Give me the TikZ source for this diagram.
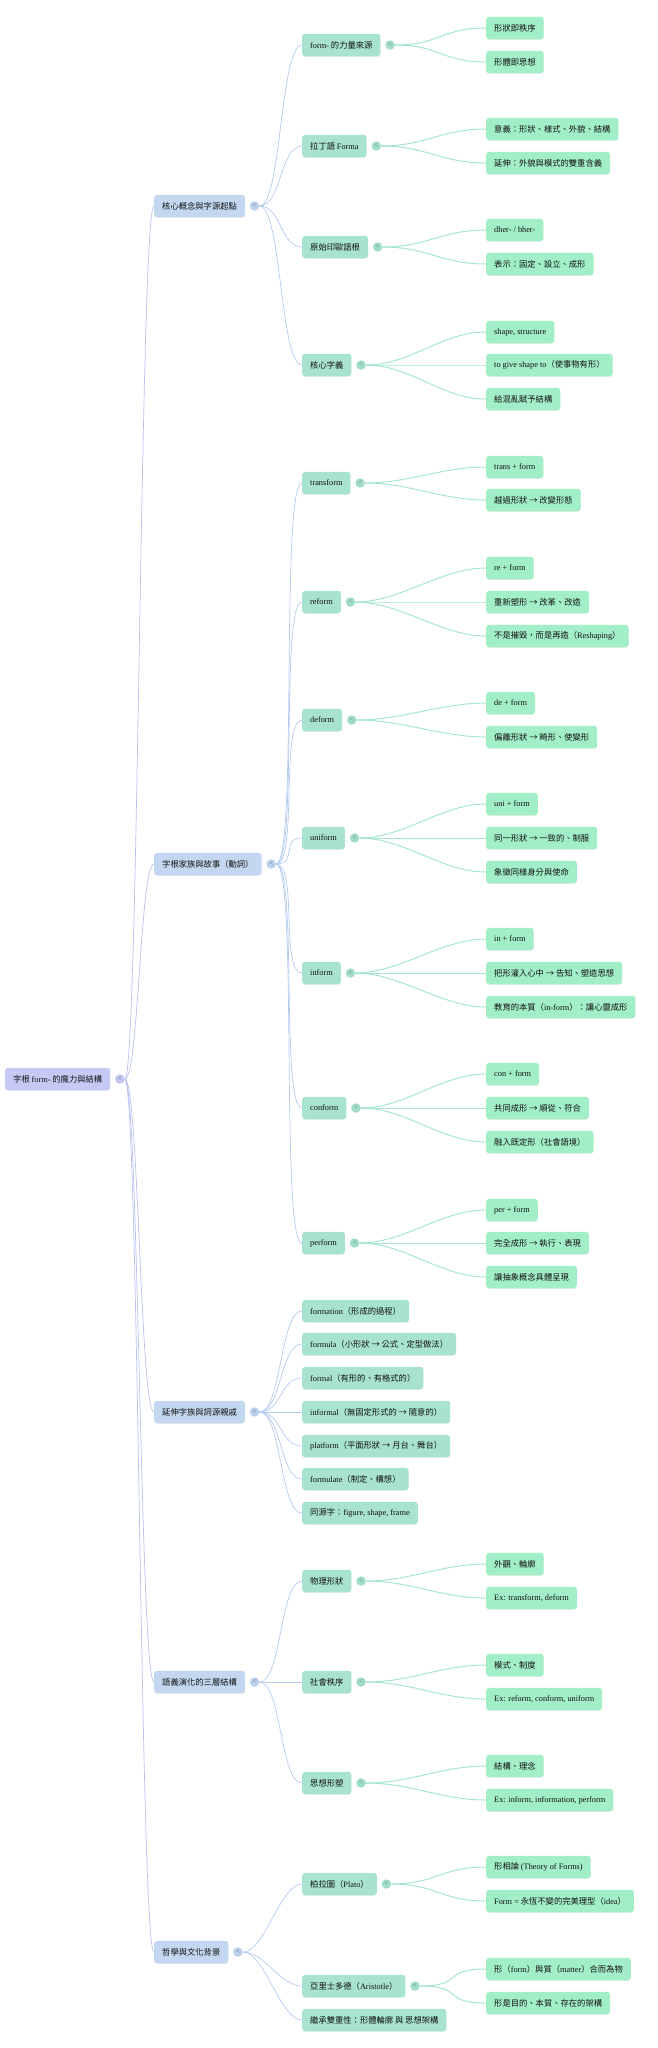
\documentclass[tikz,border=0pt]{standalone}
\usepackage{fontspec}
\setmainfont{Noto Sans CJK TC}
\newfontfamily\latf{Liberation Serif}
\newcommand\lat[1]{{\latf #1}}
\usepackage{tikz}
\usetikzlibrary{positioning,shadows}

\definecolor{rootc}{HTML}{C5CAF5}
\definecolor{topc}{HTML}{C3D8F0}
\definecolor{subc}{HTML}{A8E2D1}
\definecolor{leafc}{HTML}{A2EEC6}
\definecolor{rootk}{HTML}{C1C6F2}
\definecolor{topk}{HTML}{BACFEC}
\definecolor{subk}{HTML}{9FDDC8}
\definecolor{linea}{HTML}{B9C1F1}
\definecolor{lineb}{HTML}{B3CBEE}
\definecolor{linec}{HTML}{A6E6CF}
\definecolor{ink}{HTML}{111111}

\begin{document}
\begin{tikzpicture}[x=1pt,y=-1pt,
  box/.style={anchor=west,rounded corners=3pt,inner xsep=8pt,minimum height=22.5pt,
    text=ink,font=\fontsize{8.3}{10}\selectfont,
    drop shadow={shadow xshift=0pt,shadow yshift=-0.7pt,opacity=0.12}},
  rootbox/.style={box,fill=rootc},
  topic/.style={box,fill=topc},
  sub/.style={box,fill=subc},
  leaf/.style={box,fill=leafc},
  knob/.style={circle,inner sep=0pt,minimum size=9.5pt,text=black!60,
    font=\latf\fontsize{6.5}{6.5}\selectfont},
  ea/.style={draw=linea,line width=0.7pt,out=0,in=180,distance=14pt},
  eb/.style={draw=lineb,line width=0.7pt,out=0,in=180,distance=22pt},
  ec/.style={draw=linec,line width=1pt,out=0,in=180,distance=45pt}]
  \useasboundingbox (0,0) rectangle (658,2048);

  \node[rootbox] (r) at (5,1079) {字根 \lat{form-} 的魔力與結構};

  % main branches
  \node[topic] (a) at (154,206) {核心概念與字源起點};
  \node[topic] (b) at (154,864) {字根家族與故事（動詞）};
  \node[topic] (c) at (154,1412) {延伸字族與詞源親戚};
  \node[topic] (d) at (154,1682) {語義演化的三層結構};
  \node[topic] (e) at (154,1952) {哲學與文化背景};

  % core concepts
  \node[sub] (a1) at (302,45) {\lat{form-} 的力量來源};
  \node[sub] (a2) at (302,146) {拉丁語 \lat{Forma}};
  \node[sub] (a3) at (302,247) {原始印歐語根};
  \node[sub] (a4) at (302,365) {核心字義};
  \node[leaf] (a11) at (486,28) {形狀即秩序};
  \node[leaf] (a12) at (486,62) {形體即思想};
  \node[leaf] (a21) at (486,129) {意義：形狀、樣式、外貌、結構};
  \node[leaf] (a22) at (486,163) {延伸：外貌與模式的雙重含義};
  \node[leaf] (a31) at (486,230) {\lat{dher- / bher-}};
  \node[leaf] (a32) at (486,264) {表示：固定、設立、成形};
  \node[leaf] (a41) at (486,332) {\lat{shape, structure}};
  \node[leaf] (a42) at (486,365) {\lat{to give shape to}（使事物有形）};
  \node[leaf] (a43) at (486,399) {給混亂賦予結構};

  % verb family
  \node[sub] (b1) at (302,483) {\lat{transform}};
  \node[sub] (b2) at (302,602) {\lat{reform}};
  \node[sub] (b3) at (302,720) {\lat{deform}};
  \node[sub] (b4) at (302,838) {\lat{uniform}};
  \node[sub] (b5) at (302,973) {\lat{inform}};
  \node[sub] (b6) at (302,1108) {\lat{conform}};
  \node[sub] (b7) at (302,1243) {\lat{perform}};
  \node[leaf] (b11) at (486,467) {\lat{trans + form}};
  \node[leaf] (b12) at (486,500) {越過形狀 → 改變形態};
  \node[leaf] (b21) at (486,568) {\lat{re + form}};
  \node[leaf] (b22) at (486,602) {重新塑形 → 改革、改造};
  \node[leaf] (b23) at (486,636) {不是摧毀，而是再造（\lat{Reshaping}）};
  \node[leaf] (b31) at (486,703) {\lat{de + form}};
  \node[leaf] (b32) at (486,737) {偏離形狀 → 畸形、使變形};
  \node[leaf] (b41) at (486,804) {\lat{uni + form}};
  \node[leaf] (b42) at (486,838) {同一形狀 → 一致的、制服};
  \node[leaf] (b43) at (486,872) {象徵同樣身分與使命};
  \node[leaf] (b51) at (486,939) {\lat{in + form}};
  \node[leaf] (b52) at (486,973) {把形灌入心中 → 告知、塑造思想};
  \node[leaf] (b53) at (486,1007) {教育的本質（\lat{in-form}）：讓心靈成形};
  \node[leaf] (b61) at (486,1074) {\lat{con + form}};
  \node[leaf] (b62) at (486,1108) {共同成形 → 順從、符合};
  \node[leaf] (b63) at (486,1142) {融入既定形（社會語境）};
  \node[leaf] (b71) at (486,1210) {\lat{per + form}};
  \node[leaf] (b72) at (486,1243) {完全成形 → 執行、表現};
  \node[leaf] (b73) at (486,1277) {讓抽象概念具體呈現};

  % related words
  \node[sub] (c1) at (302,1311) {\lat{formation}（形成的過程）};
  \node[sub] (c2) at (302,1344) {\lat{formula}（小形狀 → 公式、定型做法）};
  \node[sub] (c3) at (302,1378) {\lat{formal}（有形的、有格式的）};
  \node[sub] (c4) at (302,1412) {\lat{informal}（無固定形式的 → 隨意的）};
  \node[sub] (c5) at (302,1446) {\lat{platform}（平面形狀 → 月台、舞台）};
  \node[sub] (c6) at (302,1479) {\lat{formulate}（制定、構想）};
  \node[sub] (c7) at (302,1513) {同源字：\lat{figure, shape, frame}};

  % three layers
  \node[sub] (d1) at (302,1581) {物理形狀};
  \node[sub] (d2) at (302,1682) {社會秩序};
  \node[sub] (d3) at (302,1783) {思想形塑};
  \node[leaf] (d11) at (486,1564) {外觀、輪廓};
  \node[leaf] (d12) at (486,1598) {\lat{Ex: transform, deform}};
  \node[leaf] (d21) at (486,1665) {模式、制度};
  \node[leaf] (d22) at (486,1699) {\lat{Ex: reform, conform, uniform}};
  \node[leaf] (d31) at (486,1766) {結構、理念};
  \node[leaf] (d32) at (486,1800) {\lat{Ex: inform, information, perform}};

  % philosophy
  \node[sub] (e1) at (302,1884) {柏拉圖（\lat{Plato}）};
  \node[sub] (e2) at (302,1986) {亞里士多德（\lat{Aristotle}）};
  \node[sub] (e3) at (302,2020) {繼承雙重性：形體輪廓 與 思想架構};
  \node[leaf] (e11) at (486,1867) {形相論 \lat{(Theory of Forms)}};
  \node[leaf] (e12) at (486,1901) {\lat{Form =} 永恆不變的完美理型（\lat{idea}）};
  \node[leaf] (e21) at (486,1969) {形（\lat{form}）與質（\lat{matter}）合而為物};
  \node[leaf] (e22) at (486,2003) {形是目的、本質、存在的架構};

  % fold knobs
  \node[knob,fill=rootk] (kr) [right=4.5pt of r] {<};
  \foreach \p in {a,b,c,d,e}
    \node[knob,fill=topk] (k\p) [right=4.5pt of \p] {<};
  \foreach \p in {a1,a2,a3,a4,b1,b2,b3,b4,b5,b6,b7,d1,d2,d3,e1,e2}
    \node[knob,fill=subk] (k\p) [right=4.5pt of \p] {<};

  % connectors
  \foreach \c in {a,b,c,d,e}
    \draw[ea] (kr.east) to (\c.west);
  \foreach \p/\n in {a/4,b/7,c/7,d/3,e/3}
    \foreach \i in {1,...,\n}
      \draw[eb] (k\p.east) to (\p\i.west);
  \foreach \p/\n in {a1/2,a2/2,a3/2,a4/3,b1/2,b2/3,b3/2,b4/3,b5/3,b6/3,b7/3,d1/2,d2/2,d3/2,e1/2,e2/2}
    \foreach \i in {1,...,\n}
      \draw[ec] (k\p.east) to (\p\i.west);
\end{tikzpicture}
\end{document}
